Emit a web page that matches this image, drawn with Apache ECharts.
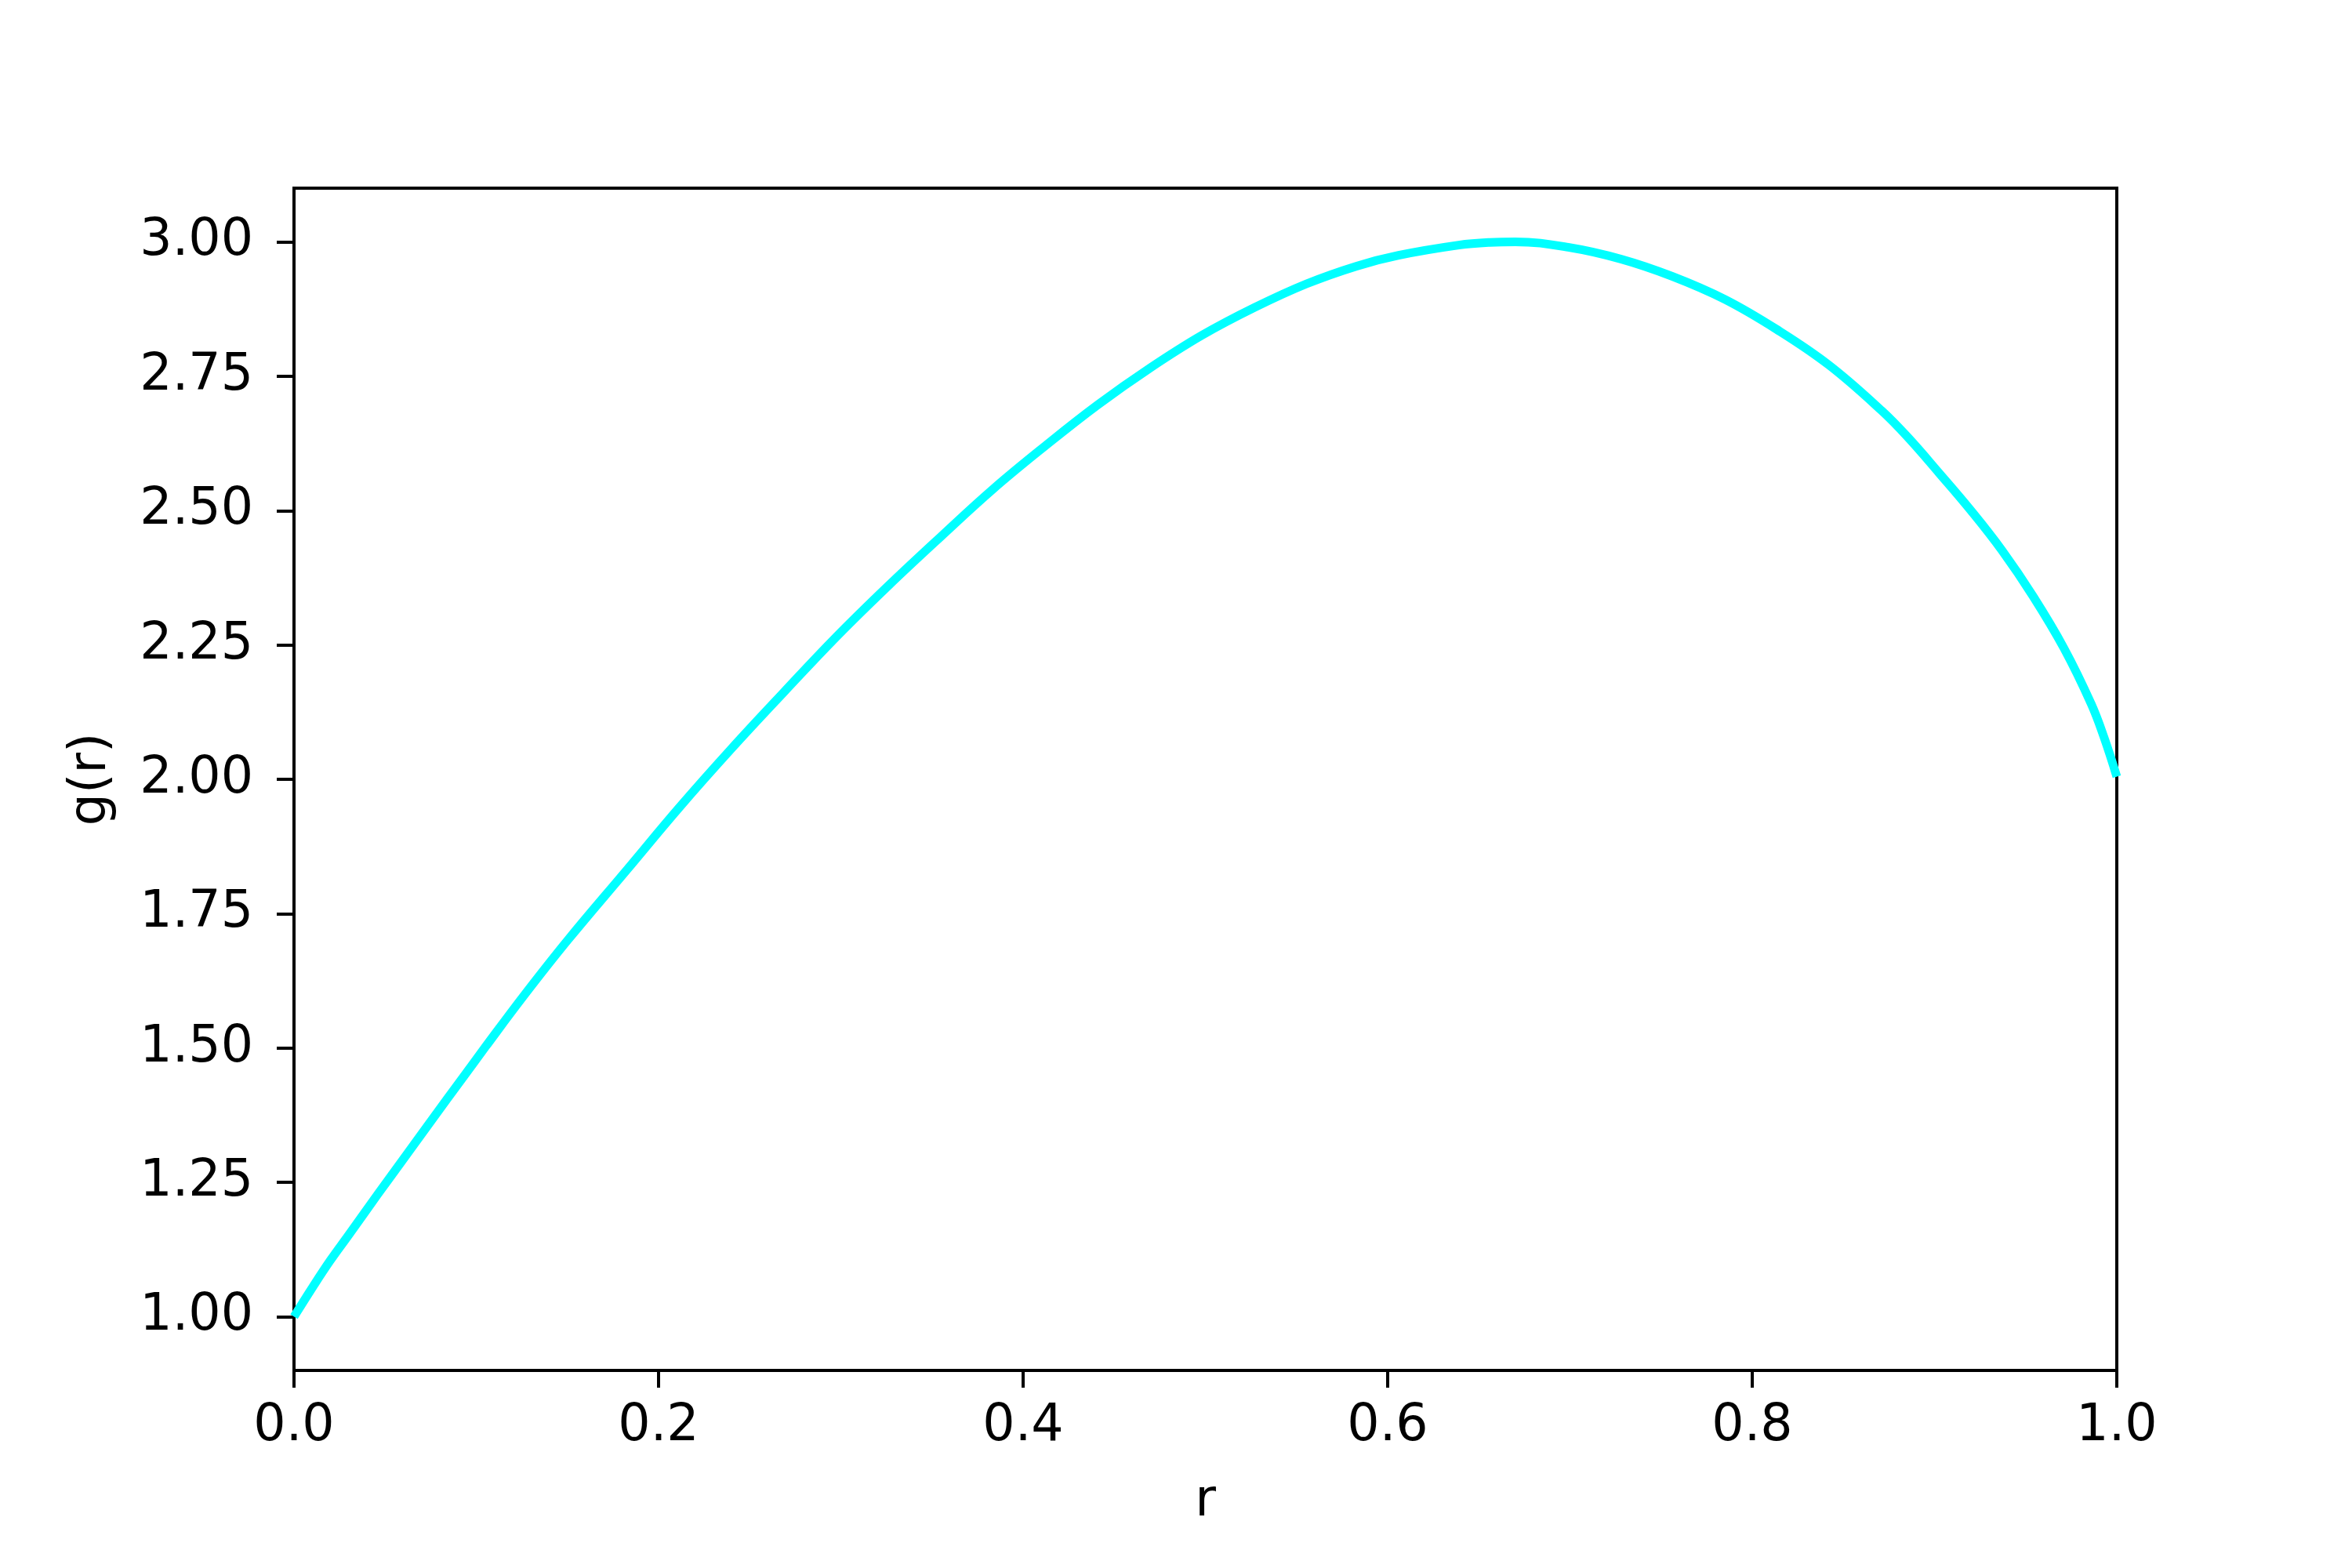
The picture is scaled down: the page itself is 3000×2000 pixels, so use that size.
<!DOCTYPE html>
<html>
<head>
<meta charset="utf-8">
<script src="https://cdn.jsdelivr.net/npm/echarts@6/dist/echarts.min.js"></script>
<style>
  html, body { margin: 0; padding: 0; background: #ffffff; }
  #chart { width: 3000px; height: 2000px; }
</style>
</head>
<body>
<div id="chart"></div>
<script>
// ---- data ----
const rValues = [
  0.000, 0.011, 0.020, 0.030, 0.046, 0.061, 0.076, 0.092, 0.105, 0.126,
  0.150, 0.183, 0.2115, 0.240, 0.269, 0.2975, 0.326, 0.355, 0.3835, 0.412,
  0.441, 0.4695, 0.498, 0.527, 0.5555, 0.583, 0.606, 0.639, 0.656, 0.670,
  0.699, 0.728, 0.756, 0.785, 0.8135, 0.842, 0.871, 0.8855, 0.9025, 0.920,
  0.937, 0.954, 0.971, 0.986, 0.993, 1.000
];
const gValues = [
  1.000, 1.059, 1.105, 1.152, 1.228, 1.298, 1.368, 1.442, 1.502, 1.597,
  1.700, 1.833, 1.948, 2.057, 2.163, 2.265, 2.360, 2.452, 2.540, 2.620,
  2.697, 2.765, 2.826, 2.878, 2.922, 2.955, 2.975, 2.994, 2.999, 3.000,
  2.990, 2.968, 2.936, 2.893, 2.837, 2.771, 2.686, 2.636, 2.570, 2.500,
  2.426, 2.341, 2.244, 2.140, 2.078, 2.005
];
const xTickValues = [0.0, 0.2, 0.4, 0.6, 0.8, 1.0];
const yTickValues = [1.00, 1.25, 1.50, 1.75, 2.00, 2.25, 2.50, 2.75, 3.00];
const xAxisName = 'r';
const yAxisName = 'g(r)';

// ---- chart ----
const points = rValues.map((r, i) => [r, gValues[i]]);
const FONT = 'DejaVu Sans';
const chart = echarts.init(document.getElementById('chart'), null, { renderer: 'canvas' });
chart.setOption({
  animation: false,
  backgroundColor: '#ffffff',
  grid: {
    left: 375, right: 300, top: 240, bottom: 252,
    show: true, borderColor: '#000000', borderWidth: 4, backgroundColor: 'transparent'
  },
  xAxis: {
    type: 'value', min: 0, max: 1, interval: 0.2,
    name: xAxisName, nameLocation: 'middle', nameGap: 136,
    nameTextStyle: { fontFamily: FONT, fontSize: 65, color: '#000000' },
    axisLine: { show: true, onZero: false, lineStyle: { color: '#000000', width: 4 } },
    axisTick: { show: true, inside: false, length: 22, lineStyle: { color: '#000000', width: 4 },
                customValues: xTickValues },
    axisLabel: { show: true, margin: 40, fontFamily: FONT, fontSize: 65, color: '#000000',
                 customValues: xTickValues, formatter: v => v.toFixed(1) },
    splitLine: { show: false }
  },
  yAxis: {
    type: 'value', min: 0.9, max: 3.1,
    name: yAxisName, nameLocation: 'middle', nameGap: 225, nameRotate: 90,
    nameTextStyle: { fontFamily: FONT, fontSize: 65, color: '#000000' },
    axisLine: { show: true, onZero: false, lineStyle: { color: '#000000', width: 4 } },
    axisTick: { show: true, inside: false, length: 22, lineStyle: { color: '#000000', width: 4 },
                customValues: yTickValues },
    axisLabel: { show: true, margin: 52, fontFamily: FONT, fontSize: 65, color: '#000000',
                 customValues: yTickValues, formatter: v => v.toFixed(2) },
    splitLine: { show: false }
  },
  series: [{
    type: 'line',
    data: points,
    showSymbol: false,
    smooth: 0.4,
    clip: true,
    lineStyle: { color: '#00ffff', width: 11, cap: 'butt', join: 'round' },
    itemStyle: { color: '#00ffff' }
  }]
});
</script>
</body>
</html>
